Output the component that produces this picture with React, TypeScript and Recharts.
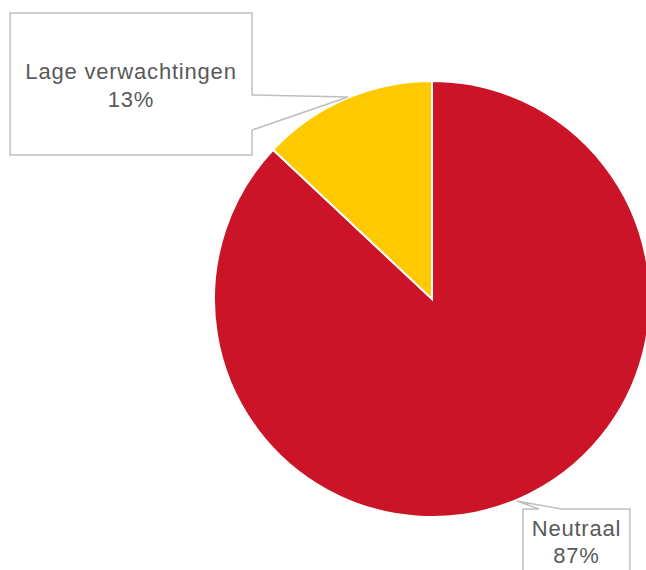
import React from 'react';
import { PieChart, Pie, Cell } from 'recharts';

const categories = ['Neutraal', 'Lage verwachtingen'];
const values = [87, 13];
const colors = ['#CB1427', '#FFC900'];

const data = categories.map((name, i) => ({ name, value: values[i] }));

const RAD = Math.PI / 180;

const Callout = (props: any) => {
  const { cx, cy, midAngle, outerRadius, index, name, value } = props;
  const r = outerRadius + 1;
  const tx = cx + r * Math.cos(-midAngle * RAD);
  const ty = cy + r * Math.sin(-midAngle * RAD);
  const stroke = '#BFBFBF';
  const textStyle = { fontFamily: 'Liberation Sans, Arial, sans-serif', fontSize: 22, fill: '#595959', letterSpacing: 0.8 };
  if (index === 1) {
    const px = tx + 3;
    const R = px - 96, L = px - 338, T = ty - 85, B = ty + 57;
    const d = `M${L},${T} L${R},${T} L${R},${ty - 3} L${px},${ty - 1} L${R},${ty + 32} L${R},${B} L${L},${B} Z`;
    const mx = (L + R) / 2;
    return (
      <g>
        <path d={d} fill="#FFFFFF" stroke={stroke} strokeWidth={1.5} />
        <text x={mx} y={ty - 19} textAnchor="middle" style={textStyle}>{name}</text>
        <text x={mx} y={ty + 9} textAnchor="middle" style={textStyle}>{`${value}%`}</text>
      </g>
    );
  }
  const px = tx - 2;
  const L = px + 6, R = px + 113, T = ty + 9, B = ty + 90;
  const d = `M${L},${T} L${px + 22},${T} L${px},${ty + 1} L${px + 44},${T} L${R},${T} L${R},${B} L${L},${B} Z`;
  const mx = (L + R) / 2;
  return (
    <g>
      <path d={d} fill="#FFFFFF" stroke={stroke} strokeWidth={1.5} />
      <text x={mx} y={ty + 36} textAnchor="middle" style={textStyle}>{name}</text>
      <text x={mx} y={ty + 63} textAnchor="middle" style={textStyle}>{`${value}%`}</text>
    </g>
  );
};

export default function App() {
  return (
    <div style={{ position: 'absolute', left: 0, top: 0, width: 646, height: 570, background: '#FFFFFF' }}>
      <PieChart width={646} height={570} margin={{ top: 0, right: 0, bottom: 0, left: 0 }}>
        <Pie
          data={data}
          dataKey="value"
          nameKey="name"
          cx={432}
          cy={299}
          outerRadius={218}
          startAngle={90}
          endAngle={-270}
          stroke="#FFFFFF"
          strokeWidth={2}
          labelLine={false}
          label={Callout}
          isAnimationActive={false}
        >
          {data.map((d, i) => (
            <Cell key={d.name} fill={colors[i]} />
          ))}
        </Pie>
      </PieChart>
    </div>
  );
}
